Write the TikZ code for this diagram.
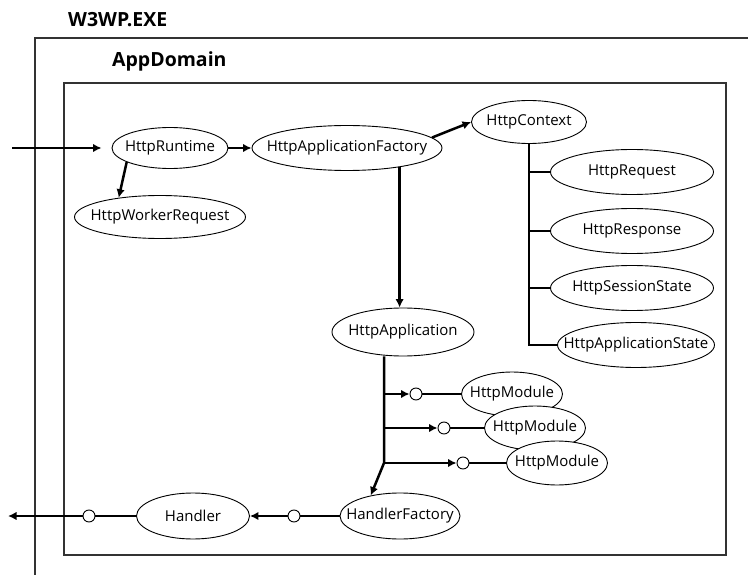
\documentclass[tikz,border=0pt]{standalone}
\usepackage{fontspec}
\setmainfont{Open Sans}
\usepackage{tikz}
\usetikzlibrary{shapes.geometric, arrows.meta}

\begin{document}
\begin{tikzpicture}[x=1pt, y=-1pt,
    obj/.style={ellipse, draw, line width=0.9pt, fill=white, inner sep=0pt,
      minimum height=45pt, font=\fontsize{15}{18}\selectfont,
      execute at begin node={\hbox to 0pt\bgroup\hss},
      execute at end node={\hss\egroup}},
    fl/.style={line width=2.5pt, -{Latex[length=8.5pt, width=8.5pt]}},
    ln/.style={line width=2.5pt},
    pt/.style={circle, draw, line width=0.9pt, fill=white, minimum size=12pt, inner sep=0pt},
    cadre/.style={draw=black!80, line width=1.1pt},
    titre/.style={font=\bfseries\fontsize{19.5}{22}\selectfont, inner sep=0pt}]

      \useasboundingbox (0,0) rectangle (748,575);

      \draw[cadre] (748,38) -- (35,38) -- (35,575);
      \draw[cadre] (64,83) rectangle (726,555);
      \node[titre, anchor=base west] (w3wp) at (68,27) {W3WP.EXE};
      \node[titre, anchor=base west] (domaine) at (112,67) {AppDomain};

      \node[obj, minimum width=116pt, minimum height=41pt] (rt) at (170,148) {HttpRuntime};
      \node[obj, minimum width=171pt, minimum height=43pt] (wr) at (160,217) {HttpWorkerRequest};
      \node[obj, minimum width=190pt, minimum height=45pt] (af) at (347,148) {HttpApplicationFactory};
      \node[obj, minimum width=115pt, minimum height=43pt] (ctx) at (529,122) {HttpContext};
      \foreach \nom/\txt/\x/\y/\w in {req/HttpRequest/632/172/163, resp/HttpResponse/632/231/163,
          sess/HttpSessionState/632/288/163, ast/HttpApplicationState/636/345/157}
        \node[obj, minimum width=\w pt] (\nom) at (\x,\y) {\txt};
      \node[obj, minimum width=142pt, minimum height=48pt] (app) at (403,332) {HttpApplication};
      \node[obj, minimum width=120pt, minimum height=46pt] (hf) at (400,516) {HandlerFactory};
      \node[obj, minimum width=113pt, minimum height=46pt] (h) at (193,516) {Handler};
      \node[pt] (hc) at (294,516) {};
      \node[pt] (lc) at (89,516) {};
      \coordinate (entree) at (12,148);
      \coordinate (sortie) at (8,516);

      \draw[fl, shorten >=10pt] (entree) -- (rt);
      \draw[fl] (rt) -- (af);
      \draw[fl] (rt.198) -- (wr.155);
      \draw[fl] (af.7) -- (ctx.west);
      \draw[fl] (af.340) -- (af.340 |- app.north);

      \draw[ln] (ctx.south) |- (ast);
      \foreach \nom in {req, resp, sess}
        \draw[ln] (ctx.south |- \nom) -- (\nom);

      \foreach \i/\cx/\mx/\y in {1/416/512/394, 2/444/535/428, 3/463/557/463} {
        \coordinate (b\i) at (384,\y);
        \node[obj, minimum width=101pt, minimum height=44pt] (m\i) at (\mx,\y) {HttpModule};
        \node[pt] (c\i) at (\cx,\y) {};
        \draw[fl] (b\i) -- (c\i);
        \draw[ln] (c\i) -- (m\i);
      }
      \draw[fl] (app.south -| b1) -- (b3) -- (hf.145);

      \draw[ln] (hf) -- (hc);
      \draw[fl] (hc) -- (h);
      \draw[ln] (h) -- (lc);
      \draw[fl] (lc) -- (sortie);
    \end{tikzpicture}
\end{document}
